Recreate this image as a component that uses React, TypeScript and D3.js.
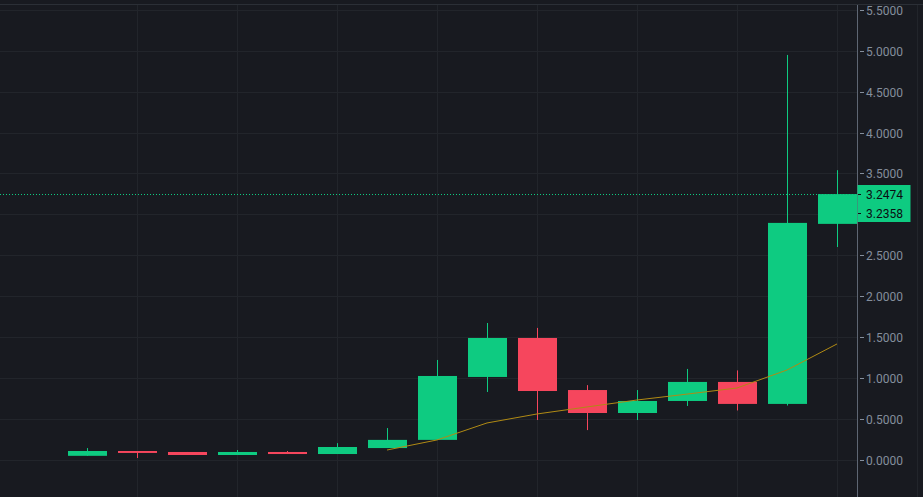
import React from "react";
import * as d3 from "d3";

const categories = ["1","2","3","4","5","6","7","8","9","10","11","12","13","14","15","16"];
const opens  = [0.045, 0.104, 0.092, 0.055, 0.092, 0.067, 0.140, 0.240, 1.010, 1.487, 0.850, 0.569, 0.716, 0.949, 0.680, 2.883];
const closes = [0.104, 0.080, 0.055, 0.092, 0.067, 0.153, 0.240, 1.022, 1.487, 0.838, 0.569, 0.716, 0.949, 0.680, 2.895, 3.2474];
const highs  = [0.140, 0.104, 0.092, 0.116, 0.104, 0.200, 0.385, 1.218, 1.670, 1.610, 0.910, 0.850, 1.108, 1.090, 4.950, 3.540];
const lows   = [0.045, 0.018, 0.055, 0.055, 0.067, 0.067, 0.140, 0.240, 0.826, 0.483, 0.360, 0.483, 0.655, 0.600, 0.660, 2.600];
const maCategories = ["7","8","9","10","11","12","13","14","15","16"];
const maValues = [0.116, 0.239, 0.447, 0.557, 0.643, 0.728, 0.800, 0.875, 1.095, 1.414];
const yTicks = [0, 0.5, 1, 1.5, 2, 2.5, 3, 3.5, 4, 4.5, 5, 5.5];
const lastPrice = 3.2474;
const secondLabel = "3.2358";

const W = 923, H = 497;
const BG = "#181a20";
const GREEN = "#0ecb81";
const RED = "#f6465d";
const GRID = "#22252b";
const AXIS_X = 857.5;

export default function App() {
  const x = d3.scaleBand<string>().domain(categories).range([62, 862]).paddingInner(0.22).paddingOuter(0.11);
  const y = d3.scaleLinear().domain([0, 5.5]).range([459.5, 10]);
  const bw = x.bandwidth();
  const cx = (c: string) => (x(c) as number) + bw / 2;
  const fmt = d3.format(".4f");
  const line = d3.line<number>().x((_, i) => cx(maCategories[i])).y((v) => y(v));
  const ly = Math.round(y(lastPrice)) + 0.5;

  return (
    <svg width={W} height={H} style={{ position: "absolute", left: 0, top: 0, display: "block" }}>
      <style>{`body{margin:0;background:${BG}}`}</style>
      <rect x={0} y={0} width={W} height={H} fill={BG} />
      <line x1={0} x2={W} y1={4.5} y2={4.5} stroke="#2b2f36" />
      {yTicks.map(t => (
        <line key={"g" + t} x1={0} x2={AXIS_X} y1={Math.round(y(t)) + 0.5} y2={Math.round(y(t)) + 0.5} stroke={GRID} />
      ))}
      {categories.filter((_, i) => i % 2 === 1).map(c => (
        <line key={"v" + c} x1={Math.round(cx(c)) + 0.5} x2={Math.round(cx(c)) + 0.5} y1={5} y2={H} stroke={GRID} />
      ))}
      <line x1={AXIS_X} x2={AXIS_X} y1={5} y2={H} stroke="#5e6673" />
      <line x1={917.5} x2={917.5} y1={5} y2={H} stroke="#22252b" />
      {yTicks.map(t => (
        <g key={"t" + t} transform={`translate(0,${Math.round(y(t)) + 0.5})`}>
          <line x1={860} x2={864} stroke="#848e9c" />
          <text x={866} dy="0.35em" fill="#848e9c" fontSize={12} fontFamily="Roboto, 'Noto Sans', sans-serif">{fmt(t)}</text>
        </g>
      ))}
      {categories.map((c, i) => {
        const up = closes[i] >= opens[i];
        const col = up ? GREEN : RED;
        const top = y(Math.max(opens[i], closes[i]));
        const bot = y(Math.min(opens[i], closes[i]));
        const xc = Math.round(cx(c)) + 0.5;
        return (
          <g key={"c" + c}>
            <line x1={xc} x2={xc} y1={y(highs[i])} y2={y(lows[i])} stroke={col} />
            <rect x={Math.round(x(c) as number)} y={top} width={bw} height={Math.max(1.5, bot - top)} fill={col} />
          </g>
        );
      })}
      <path d={line(maValues) || ""} fill="none" stroke="#b08a14" strokeWidth={1} />
      <line x1={0} x2={AXIS_X} y1={ly} y2={ly} stroke={GREEN} strokeDasharray="1,2" />
      <rect x={AXIS_X} y={185} width={53} height={37} fill={GREEN} />
      <line x1={858} x2={861} y1={ly} y2={ly} stroke="#0b0e11" />
      <line x1={858} x2={861} y1={213.5} y2={213.5} stroke="#0b0e11" />
      <text x={866} y={ly} dy="0.35em" fill="#0b0e11" fontSize={12} fontFamily="Roboto, 'Noto Sans', sans-serif">{fmt(lastPrice)}</text>
      <text x={866} y={213.5} dy="0.35em" fill="#0b0e11" fontSize={12} fontFamily="Roboto, 'Noto Sans', sans-serif">{secondLabel}</text>
    </svg>
  );
}
